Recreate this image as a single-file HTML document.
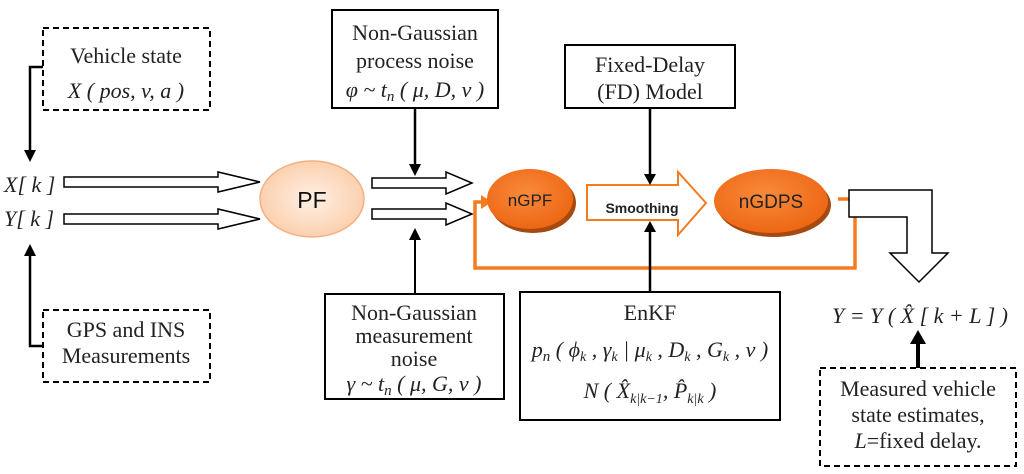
<!DOCTYPE html>
<html><head><meta charset="utf-8"><style>
html,body{margin:0;padding:0;background:#fff;}
svg{display:block;}
.s{font-family:"Liberation Serif",serif;font-size:22px;fill:#222;}
.i{font-style:italic;}
.a{font-family:"Liberation Sans",sans-serif;}
</style></head><body>
<svg width="1024" height="474" viewBox="0 0 1024 474">
<defs>
<radialGradient id="pf" cx="0.5" cy="0.5" r="0.6"><stop offset="0" stop-color="#fff0e4"/><stop offset="1" stop-color="#fbcaa4"/></radialGradient>
<radialGradient id="og" cx="0.45" cy="0.4" r="0.65"><stop offset="0" stop-color="#f98a3c"/><stop offset="1" stop-color="#ec6410"/></radialGradient>
</defs>
<rect x="43" y="28" width="167" height="82" fill="none" stroke="#000" stroke-width="2" stroke-dasharray="6,4"/>
<text x="126" y="63" text-anchor="middle" class="s">Vehicle state</text>
<text x="126" y="98" text-anchor="middle" class="s i" font-size="24">X ( pos, v, a )</text>
<polyline points="43,67 30,67 30,150" fill="none" stroke="#000" stroke-width="2.5"/>
<path d="M24,150 L36,150 L30,162 z"/>
<rect x="43" y="310" width="167" height="72" fill="none" stroke="#000" stroke-width="2" stroke-dasharray="6,4"/>
<text x="126" y="337" text-anchor="middle" class="s">GPS and INS</text>
<text x="126" y="363" text-anchor="middle" class="s">Measurements</text>
<polyline points="43,346 30,346 30,256" fill="none" stroke="#000" stroke-width="2.5"/>
<path d="M24,256 L36,256 L30,244 z"/>
<text x="4" y="192" class="s i" font-size="24">X[ k ]</text>
<text x="4" y="226" class="s i" font-size="24">Y[ k ]</text>
<path d="M64,177 L218,177 L218,172 L260,182 L218,192 L218,187 L64,187 z" fill="#fff" stroke="#000" stroke-width="1.5"/>
<path d="M64,214 L218,214 L218,209 L260,219 L218,229 L218,224 L64,224 z" fill="#fff" stroke="#000" stroke-width="1.5"/>
<ellipse cx="312" cy="199" rx="52" ry="38" fill="url(#pf)" stroke="#f4b183" stroke-width="1.5"/>
<text x="312" y="208" text-anchor="middle" class="a" font-size="23" fill="#111">PF</text>
<rect x="332" y="10" width="166" height="98" fill="#fff" stroke="#000" stroke-width="2"/>
<text x="415" y="40" text-anchor="middle" class="s">Non-Gaussian</text>
<text x="415" y="68" text-anchor="middle" class="s">process noise</text>
<text x="415" y="97" text-anchor="middle" class="s i" font-size="23">φ ~ t<tspan font-size="15" dy="4">n</tspan><tspan dy="-4"> ( μ, D, v )</tspan></text>
<line x1="415" y1="108" x2="415" y2="166" stroke="#000" stroke-width="2.5"/>
<path d="M409,164 L421,164 L415,176 z"/>
<path d="M372,178 L446,178 L446,172 L472,183 L446,194 L446,188 L372,188 z" fill="#fff" stroke="#000" stroke-width="1.5"/>
<path d="M372,209 L446,209 L446,203 L472,214 L446,225 L446,219 L372,219 z" fill="#fff" stroke="#000" stroke-width="1.5"/>
<line x1="415" y1="294" x2="415" y2="238" stroke="#000" stroke-width="2"/>
<path d="M409,240 L421,240 L415,228 z"/>
<rect x="325" y="294" width="179" height="105" fill="#fff" stroke="#000" stroke-width="2"/>
<text x="414" y="320" text-anchor="middle" class="s">Non-Gaussian</text>
<text x="414" y="343" text-anchor="middle" class="s">measurement</text>
<text x="414" y="366" text-anchor="middle" class="s">noise</text>
<text x="414" y="391" text-anchor="middle" class="s i" font-size="23">γ ~ t<tspan font-size="15" dy="4">n</tspan><tspan dy="-4"> ( μ, G, v )</tspan></text>
<polyline points="838,199 855,199 855,268 475,268 475,202 482,202" fill="none" stroke="#f57b20" stroke-width="3.5"/>
<path d="M481,195 L492,202 L481,209 z" fill="#f57b20"/>
<ellipse cx="533" cy="203" rx="43" ry="30" fill="#a54a10"/>
<ellipse cx="530" cy="199" rx="43" ry="30" fill="url(#og)"/>
<text x="530" y="206" text-anchor="middle" class="a" font-size="17" fill="#222">nGPF</text>
<path d="M587,185 L678,185 L678,172 L706,203 L678,235 L678,220 L587,220 z" fill="#fff" stroke="#f57b20" stroke-width="2"/>
<text x="642" y="213" text-anchor="middle" class="a" font-size="14" font-weight="bold" fill="#222">Smoothing</text>
<rect x="565" y="45" width="170" height="63" fill="#fff" stroke="#000" stroke-width="2"/>
<text x="650" y="72" text-anchor="middle" class="s">Fixed-Delay</text>
<text x="650" y="99" text-anchor="middle" class="s">(FD) Model</text>
<line x1="650" y1="108" x2="650" y2="175" stroke="#000" stroke-width="2.5"/>
<path d="M644,174 L656,174 L650,185 z"/>
<line x1="650" y1="292" x2="650" y2="230" stroke="#000" stroke-width="2.5"/>
<path d="M644,232 L656,232 L650,221 z"/>
<ellipse cx="774" cy="205" rx="57" ry="32" fill="#a54a10"/>
<ellipse cx="771" cy="201" rx="57" ry="32" fill="url(#og)"/>
<text x="771" y="208" text-anchor="middle" class="a" font-size="19" fill="#222">nGDPS</text>
<rect x="520" y="292" width="260" height="128" fill="#fff" stroke="#000" stroke-width="2"/>
<text x="650" y="320" text-anchor="middle" class="s">EnKF</text>
<text x="650" y="357" text-anchor="middle" class="s i" font-size="23">p<tspan font-size="15" dy="4">n</tspan><tspan dy="-4"> ( ϕ</tspan><tspan font-size="14" dy="4">k</tspan><tspan dy="-4"> , γ</tspan><tspan font-size="14" dy="4">k</tspan><tspan dy="-4"> | μ</tspan><tspan font-size="14" dy="4">k</tspan><tspan dy="-4"> , D</tspan><tspan font-size="14" dy="4">k</tspan><tspan dy="-4"> , G</tspan><tspan font-size="14" dy="4">k</tspan><tspan dy="-4"> , v )</tspan></text>
<text x="650" y="398" text-anchor="middle" class="s i" font-size="23">N ( X̂<tspan font-size="14" dy="5">k|k−1</tspan><tspan dy="-5">, P̂</tspan><tspan font-size="14" dy="5">k|k</tspan><tspan dy="-5"> )</tspan></text>
<path d="M849,190 L932,190 L932,253 L948,253 L919,282 L890,253 L907,253 L907,217 L849,217 z" fill="#fff" stroke="#000" stroke-width="1.5"/>
<text x="920" y="323" text-anchor="middle" class="s i" font-size="23">Y = Y ( X̂ [ k + L ] )</text>
<line x1="918" y1="368" x2="918" y2="342" stroke="#000" stroke-width="4"/>
<path d="M910,344 L926,344 L918,330 z"/>
<rect x="820" y="368" width="196" height="98" fill="none" stroke="#000" stroke-width="2" stroke-dasharray="6,4"/>
<text x="918" y="396" text-anchor="middle" class="s">Measured vehicle</text>
<text x="918" y="422" text-anchor="middle" class="s">state estimates,</text>
<text x="918" y="448" text-anchor="middle" class="s"><tspan class="i">L</tspan>=fixed delay.</text>
</svg>
</body></html>
